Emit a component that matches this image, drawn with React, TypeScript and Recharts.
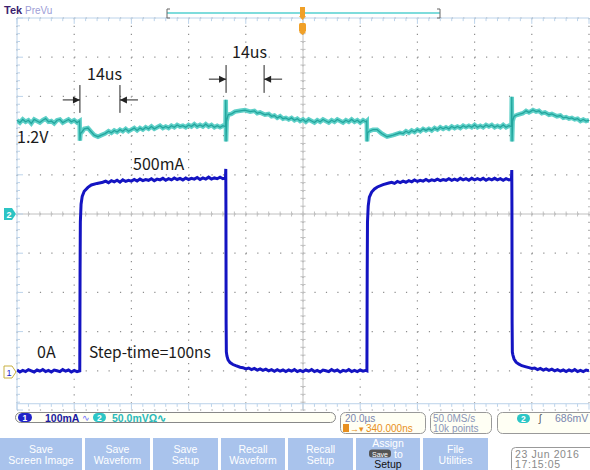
import React from 'react';
import { LineChart, Line, XAxis, YAxis, CartesianGrid, ReferenceLine, ReferenceDot } from 'recharts';

// ---- Axes (oscilloscope graticule: 10 x 10 divisions) ----
const timeTicks = [0, 20, 40, 60, 80, 100, 120, 140, 160, 180, 200]; // µs, 20 µs/div
const currentTicks = [-100, 0, 100, 200, 300, 400, 500, 600, 700, 800, 900]; // mA, 100 mA/div
const voltageDomain = [831.4, 1331.4]; // mV, 50 mV/div

// ---- Channel 2 : output voltage (mV), [time µs, value] ----
const ch2Points: [number, number][] = [
  [0, 1201], [1, 1198], [2, 1202], [3, 1199], [4, 1201], [5, 1197], [6, 1202], [7, 1200], [8, 1198], [9, 1201],
  [10, 1203], [11, 1199], [12, 1200], [13, 1197], [14, 1201], [15, 1202], [16, 1198], [17, 1200], [18, 1202], [19, 1199],
  [20, 1201], [21, 1198], [21.9, 1200], [22.0, 1175], [22.2, 1184], [22.7, 1186], [23.5, 1190], [24.8, 1191], [26, 1186],
  [27, 1182], [28.3, 1180], [29.5, 1182], [30.8, 1184],
  [32, 1187], [33, 1185], [34, 1188], [35, 1186], [36, 1189], [37, 1187], [38, 1190], [39, 1187], [40, 1189], [41, 1191],
  [42, 1188], [43, 1191], [44, 1189], [45, 1192], [46, 1190], [47, 1193], [48, 1190], [49, 1192], [50, 1194], [51, 1191],
  [52, 1193], [53, 1191], [54, 1194], [55, 1192], [56, 1195], [57, 1193], [58, 1194], [59, 1192], [60, 1195], [61, 1193],
  [62, 1196], [63, 1193], [64, 1195], [65, 1193], [66, 1196], [67, 1193], [68, 1195], [69, 1192], [70, 1194], [71, 1192],
  [72, 1194], [72.9, 1193], [73.0, 1227], [73.1, 1174], [73.3, 1200], [73.8, 1208], [75, 1209], [76.2, 1212], [78, 1213],
  [79.7, 1214], [81.5, 1212], [83, 1213], [84, 1210], [85, 1211], [86.7, 1208], [88, 1209], [89, 1206], [90, 1207],
  [91, 1204], [92, 1206], [93, 1203], [94, 1204], [95, 1202], [96, 1204], [97, 1201], [98, 1203], [99, 1200], [100, 1202],
  [101, 1199], [102, 1202], [103, 1200], [104, 1198], [105, 1201], [106, 1199], [107, 1202], [108, 1200], [109, 1198],
  [110, 1201], [111, 1199], [112, 1202], [113, 1200], [114, 1198], [115, 1201], [116, 1199], [117, 1202], [118, 1199],
  [119, 1201], [120, 1198], [121, 1201], [122, 1199], [122.3, 1200], [122.4, 1174], [122.6, 1185], [123.1, 1187],
  [124.5, 1189], [125.9, 1189], [127.5, 1184], [129.4, 1180], [131.5, 1182], [133.9, 1185],
  [135, 1184], [136, 1187], [137, 1185], [138, 1188], [139, 1186], [140, 1189], [141, 1187], [142, 1190], [143, 1188],
  [144, 1190], [145, 1188], [146, 1191], [147, 1189], [148, 1192], [149, 1190], [150, 1192], [151, 1190], [152, 1193],
  [153, 1191], [154, 1193], [155, 1191], [156, 1194], [157, 1192], [158, 1194], [159, 1192], [160, 1195], [161, 1192],
  [162, 1194], [163, 1192], [164, 1195], [165, 1193], [166, 1195], [167, 1192], [168, 1194], [169, 1192], [170, 1195],
  [171, 1192], [172, 1194], [172.9, 1193], [173.0, 1231], [173.1, 1174], [173.3, 1200], [173.8, 1206], [175, 1208],
  [176.9, 1210], [178, 1213], [179, 1211], [180.4, 1214], [181.5, 1212], [182.5, 1213], [183.5, 1210], [184.6, 1211],
  [186, 1208], [187, 1209], [188.8, 1206], [190, 1207], [191, 1204], [192, 1205], [193, 1203], [194, 1204], [195, 1202],
  [196, 1203], [197, 1200], [198, 1202], [199, 1200], [200, 1201],
];

// ---- Channel 1 : load current (mA), [time µs, value] ----
const ch1Points: [number, number][] = [
  [0, 2], [1, -3], [2, 1], [3, -2], [4, 3], [5, 0], [6, -3], [7, 2], [8, -1], [9, 3], [10, -2], [11, 1], [12, -3], [13, 2],
  [14, 0], [15, -2], [16, 3], [17, -1], [18, 2], [19, -3], [20, 1], [21, -2], [21.95, 0], [22.05, 250], [22.15, 380],
  [22.4, 425], [22.8, 445], [23.5, 458], [24.8, 468], [26, 474], [28, 478], [30, 481],
  [31, 484], [32, 480], [33, 485], [34, 482], [35, 486], [36, 481], [37, 487], [38, 483], [39, 486], [40, 484], [41, 488],
  [42, 484], [43, 489], [44, 485], [45, 488], [46, 486], [47, 490], [48, 485], [49, 489], [50, 487], [51, 491], [52, 486],
  [53, 490], [54, 487], [55, 492], [56, 488], [57, 491], [58, 487], [59, 492], [60, 488], [61, 491], [62, 489], [63, 493],
  [64, 488], [65, 492], [66, 489], [67, 494], [68, 489], [69, 492], [70, 490], [71, 494], [72, 490], [72.9, 492],
  [73.0, 515], [73.05, 420], [73.12, 120], [73.2, 48], [73.4, 38], [73.8, 28], [74.5, 21], [75.5, 16], [76.5, 13],
  [78, 9], [79, 8], [80, 5], [81, 7], [82, 3], [83, 6], [84, 2], [85, 5], [86, 1], [87, 4], [88, 0], [89, 3], [90, -1],
  [91, 3], [92, -1], [93, 2], [94, -2], [95, 2], [96, -1], [97, 3], [98, -2], [99, 1], [100, -2], [101, 2], [102, -1],
  [103, 3], [104, -2], [105, 1], [106, -3], [107, 2], [108, 0], [109, -2], [110, 3], [111, -1], [112, 2], [113, -3],
  [114, 1], [115, -1], [116, 3], [117, -2], [118, 1], [119, -2], [120, 2], [121, -1], [122, 1], [122.35, 0],
  [122.45, 250], [122.55, 380], [122.8, 420], [123.2, 443], [124, 456], [125, 464], [126, 469], [128, 475], [130, 479],
  [131, 481], [132, 478], [133, 483], [134, 480], [135, 484], [136, 481], [137, 485], [138, 482], [139, 487], [140, 483],
  [141, 486], [142, 484], [143, 488], [144, 484], [145, 487], [146, 485], [147, 489], [148, 485], [149, 488], [150, 486],
  [151, 490], [152, 486], [153, 489], [154, 486], [155, 491], [156, 487], [157, 490], [158, 486], [159, 491], [160, 487],
  [161, 490], [162, 487], [163, 491], [164, 486], [165, 490], [166, 487], [167, 491], [168, 487], [169, 490], [170, 486],
  [171, 490], [172, 487], [172.9, 489], [173.0, 512], [173.05, 420], [173.12, 120], [173.2, 48], [173.4, 40],
  [173.8, 30], [174.5, 22], [175.5, 17], [176.5, 13], [178, 10], [179, 8], [180, 6], [181, 7], [182, 3], [183, 6],
  [184, 2], [185, 5], [186, 1], [187, 4], [188, 0], [189, 3], [190, -1], [191, 2], [192, -2], [193, 2], [194, -1],
  [195, 3], [196, -2], [197, 1], [198, -2], [199, 2], [200, 0],
];

// ---- Annotations (data coordinates: µs, mA) ----
const spanMarks = [
  { from: 22.0, to: 36.0, low: 658, high: 729, arrowY: 691 },
  { from: 73.1, to: 86.4, low: 709, high: 780, arrowY: 744 },
];

const ch2Data = ch2Points.map(([t, v]) => ({ t, v }));
const ch1Data = ch1Points.map(([t, i]) => ({ t, i }));

// graticule minor-tick positions (1/5 division)
const minorT = Array.from({ length: 51 }, (_, k) => k * 4);
const minorI = Array.from({ length: 51 }, (_, k) => -100 + k * 20);

const GRID = '#8e8e8e';
const CROSS = '#c0c0c0';
const EDGE = '#bcd3ea';
const INK = '#222';

const ArrowRight = (p: any) => (
  <polygon points={`${p.cx},${p.cy} ${p.cx - 7},${p.cy - 3.5} ${p.cx - 7},${p.cy + 3.5}`} fill={INK} />
);
const ArrowLeft = (p: any) => (
  <polygon points={`${p.cx},${p.cy} ${p.cx + 7},${p.cy - 3.5} ${p.cx + 7},${p.cy + 3.5}`} fill={INK} />
);

const btnFont = '"Liberation Sans", Arial, sans-serif';
const annFont = '"Noto Sans CJK SC", "Noto Sans", sans-serif';

const buttons: { x: number; w: number; lines: string[] }[] = [
  { x: 0, w: 82, lines: ['Save', 'Screen Image'] },
  { x: 85, w: 65, lines: ['Save', 'Waveform'] },
  { x: 153, w: 65, lines: ['Save', 'Setup'] },
  { x: 221, w: 64, lines: ['Recall', 'Waveform'] },
  { x: 288, w: 65, lines: ['Recall', 'Setup'] },
];

export default function App() {
  return (
    <div style={{ position: 'absolute', left: 0, top: 0, width: 590, height: 470, background: '#fff', overflow: 'hidden' }}>
      <div style={{ position: 'absolute', left: 0, top: 0 }}>
        <LineChart width={590} height={470} margin={{ top: 18, right: 1, bottom: 60, left: 17 }}>
          <XAxis dataKey="t" type="number" domain={[0, 200]} ticks={timeTicks} hide allowDataOverflow />
          <YAxis type="number" domain={[-100, 900]} ticks={currentTicks} hide allowDataOverflow />
          <YAxis yAxisId="v" type="number" domain={voltageDomain} hide allowDataOverflow />
          <CartesianGrid vertical={false} stroke={GRID} strokeWidth={1.2} strokeDasharray="1.2 10.24" />
          <CartesianGrid horizontal={false} stroke={GRID} strokeWidth={1.2} strokeDasharray="1.2 6.64" />
          {/* center cross */}
          <ReferenceLine x={100} stroke={CROSS} />
          <ReferenceLine y={400} stroke={CROSS} />
          {minorT.map((t) => (
            <ReferenceLine key={'ch' + t} segment={[{ x: t, y: 393.6 }, { x: t, y: 406.4 }]} stroke={CROSS} />
          ))}
          {minorI.map((i) => (
            <ReferenceLine key={'cv' + i} segment={[{ x: 99.1, y: i }, { x: 100.9, y: i }]} stroke={CROSS} />
          ))}
          {/* edge rulers */}
          <ReferenceLine x={0} stroke={EDGE} />
          <ReferenceLine y={900} stroke={EDGE} />
          <ReferenceLine y={-84} stroke={EDGE} />
          {minorT.map((t) => (
            <ReferenceLine key={'tt' + t} segment={[{ x: t, y: 900 }, { x: t, y: t % 20 === 0 ? 885 : 892 }]} stroke={EDGE} />
          ))}
          {minorT.map((t) => (
            <ReferenceLine key={'bt' + t} segment={[{ x: t, y: -84 }, { x: t, y: t % 20 === 0 ? -99 : -92 }]} stroke={EDGE} />
          ))}
          {minorI.map((i) => (
            <ReferenceLine key={'lt' + i} segment={[{ x: 0, y: i }, { x: i % 100 === 0 ? 2.1 : 1.05, y: i }]} stroke={EDGE} />
          ))}
          {/* span annotations */}
          {spanMarks.map((m, k) => (
            <React.Fragment key={'sm' + k}>
              <ReferenceLine segment={[{ x: m.from, y: m.low }, { x: m.from, y: m.high }]} stroke={INK} />
              <ReferenceLine segment={[{ x: m.to, y: m.low }, { x: m.to, y: m.high }]} stroke={INK} />
              <ReferenceLine segment={[{ x: m.from - 6, y: m.arrowY }, { x: m.from, y: m.arrowY }]} stroke={INK} />
              <ReferenceLine segment={[{ x: m.to, y: m.arrowY }, { x: m.to + 6.3, y: m.arrowY }]} stroke={INK} />
              <ReferenceDot x={m.from} y={m.arrowY} r={3} shape={ArrowRight} />
              <ReferenceDot x={m.to} y={m.arrowY} r={3} shape={ArrowLeft} />
            </React.Fragment>
          ))}
          <Line yAxisId="v" data={ch2Data} dataKey="v" type="linear" stroke="#5fd0c8" strokeWidth={4.5} dot={false} isAnimationActive={false} />
          <Line yAxisId="v" data={ch2Data} dataKey="v" type="linear" stroke="#23a59d" strokeWidth={1.3} dot={false} isAnimationActive={false} />
          <Line data={ch1Data} dataKey="i" type="linear" stroke="#1414c2" strokeWidth={3} dot={false} isAnimationActive={false} />
        </LineChart>
      </div>

      <svg width={590} height={470} style={{ position: 'absolute', left: 0, top: 0, pointerEvents: 'none' }}>
        {/* top bar */}
        <text x={4} y={14} fontFamily={btnFont} fontWeight="bold" fontSize={11} fill="#3c1e6e">Tek</text>
        <text x={25} y={14} fontFamily={btnFont} fontSize={10} fill="#9d9dd6">PreVu</text>
        <line x1={167} y1={13} x2={440} y2={13} stroke="#7edcdc" strokeWidth={2} />
        <path d="M170,9 L167,9 L167,18 L170,18" stroke="#666" fill="none" />
        <path d="M437,9 L440,9 L440,18 L437,18" stroke="#666" fill="none" />
        <rect x={300} y={7} width={5} height={9} fill="#f0a028" />
        <polygon points="299,16 306,16 302.5,20" fill="#f0a028" />
        <rect x={299} y={23} width={7} height={9} rx={1.5} fill="#f0a028" />
        <polygon points="299,32 306,32 302.5,35" fill="#f0a028" />

        {/* channel markers */}
        <polygon points="4,208 12,208 16,214 12,220 4,220" fill="#2cc4c4" />
        <text x={6.5} y={218} fontFamily={btnFont} fontSize={9} fontWeight="bold" fill="#fff">2</text>
        <polygon points="4,366 12,366 16,372 12,378 4,378" fill="#fff" stroke="#c8b040" />
        <text x={6.5} y={376} fontFamily={btnFont} fontSize={9} fill="#1a1acc">1</text>

        {/* annotations */}
        <g fontFamily={annFont} fontSize={16} fill="#1a1a1a">
          <text x={87} y={80}>14us</text>
          <text x={232} y={58}>14us</text>
          <text x={17} y={143}>1.2V</text>
          <text x={133} y={170}>500mA</text>
          <text x={37} y={358}>0A</text>
          <text x={89} y={358} fontSize={15.5}>Step-time=100ns</text>
        </g>

        {/* status bar */}
        <rect x={15.5} y={412.5} width={320} height={10} rx={5} fill="#fffff4" stroke="#888" />
        <rect x={18} y={413} width={14} height={9} rx={4.5} fill="#1f22c8" />
        <text x={22.5} y={421} fontFamily={btnFont} fontSize={8.5} fontWeight="bold" fill="#fff">1</text>
        <text x={45} y={421.5} fontFamily={btnFont} fontSize={10.5} fontWeight="bold" fill="#1a1aa0">100mA</text>
        <text x={82} y={421} fontFamily={btnFont} fontSize={9} fill="#6a6aff">∿</text>
        <rect x={93} y={413} width={13} height={9} rx={4.5} fill="#2cc6c6" />
        <text x={97} y={421} fontFamily={btnFont} fontSize={8.5} fontWeight="bold" fill="#fff">2</text>
        <text x={112} y={421.5} fontFamily={btnFont} fontSize={10.5} fontWeight="bold" fill="#2cbaba">50.0mVΩ∿</text>

        <rect x={340.5} y={412.5} width={85} height={21} rx={5} fill="#fffff4" stroke="#999" />
        <text x={345} y={421.5} fontFamily={btnFont} fontSize={10} fill="#7a86b0">20.0µs</text>
        <rect x={343} y={424} width={6} height={8} fill="#e89020" />
        <text x={350} y={432} fontFamily={btnFont} fontSize={9} fill="#e89020">→▾</text>
        <text x={366} y={432} fontFamily={btnFont} fontSize={10} fill="#e89020">340.000ns</text>

        <rect x={430.5} y={412.5} width={61} height={21} rx={5} fill="#fffff4" stroke="#999" />
        <text x={433} y={421.5} fontFamily={btnFont} fontSize={10} fill="#8a96b8">50.0MS/s</text>
        <text x={433} y={432} fontFamily={btnFont} fontSize={10} fill="#8a96b8">10k points</text>

        <rect x={497.5} y={412.5} width={100} height={21} rx={5} fill="#fffff4" stroke="#999" />
        <rect x={517} y={414} width={13} height={9} rx={4.5} fill="#2cc6c6" />
        <text x={521} y={422} fontFamily={btnFont} fontSize={8.5} fontWeight="bold" fill="#fff">2</text>
        <text x={539} y={422} fontFamily={btnFont} fontSize={10} fill="#555">ʃ</text>
        <text x={555} y={421.5} fontFamily={btnFont} fontSize={10.5} fill="#7a86b0">686mV</text>

        {/* buttons */}
        {buttons.map((b, k) => (
          <g key={'b' + k}>
            <rect x={b.x} y={438} width={b.w} height={32} fill="#a9c3ec" />
            <text x={b.x + b.w / 2} y={453} textAnchor="middle" fontFamily={btnFont} fontSize={10.5} fill="#fff">{b.lines[0]}</text>
            <text x={b.x + b.w / 2} y={464} textAnchor="middle" fontFamily={btnFont} fontSize={10.5} fill="#fff">{b.lines[1]}</text>
          </g>
        ))}
        <rect x={356} y={438} width={64} height={32} fill="#a9c3ec" />
        <text x={388} y={447} textAnchor="middle" fontFamily={btnFont} fontSize={10.5} fill="#fff">Assign</text>
        <rect x={369} y={449.5} width={22} height={8} rx={3} fill="#555" />
        <text x={380} y={456.5} textAnchor="middle" fontFamily={btnFont} fontSize={7} fill="#fff">Save</text>
        <text x={394} y={457.5} fontFamily={btnFont} fontSize={10.5} fill="#fff">to</text>
        <text x={388} y={468} textAnchor="middle" fontFamily={btnFont} fontSize={10.5} fill="#111">Setup</text>
        <rect x={423} y={438} width={65} height={32} fill="#a9c3ec" />
        <text x={455.5} y={453} textAnchor="middle" fontFamily={btnFont} fontSize={10.5} fill="#fff">File</text>
        <text x={455.5} y={464} textAnchor="middle" fontFamily={btnFont} fontSize={10.5} fill="#fff">Utilities</text>

        <rect x={511.5} y={447.5} width={85} height={25} rx={4} fill="#fff" stroke="#999" />
        <text x={515} y={457.5} fontFamily={btnFont} fontSize={10.5} letterSpacing={0.6} fill="#8a8a8a">23 Jun 2016</text>
        <text x={515} y={468} fontFamily={btnFont} fontSize={10.5} letterSpacing={0.6} fill="#8a8a8a">17:15:05</text>
      </svg>
    </div>
  );
}
